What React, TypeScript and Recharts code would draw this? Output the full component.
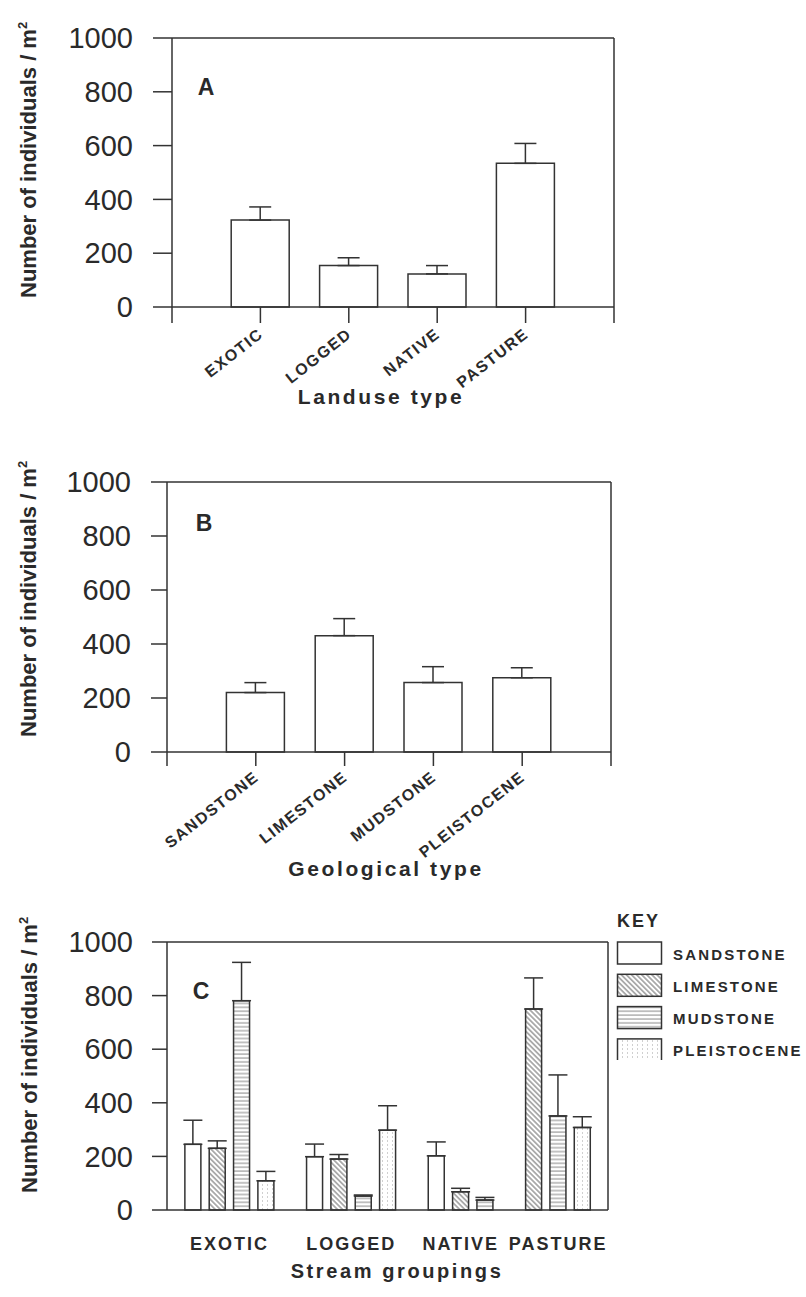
import React from "react";
import {
  BarChart,
  Bar,
  XAxis,
  YAxis,
  ErrorBar,
  ReferenceLine,
  Cell,
} from "recharts";

// ---- data ----
const landuseTypes = ["EXOTIC", "LOGGED", "NATIVE", "PASTURE"];
const landuseMeans = [323, 154, 123, 534];
const landuseErrors = [49, 29, 31, 74];

const geologyTypes = ["SANDSTONE", "LIMESTONE", "MUDSTONE", "PLEISTOCENE"];
const geologyMeans = [220, 431, 257, 275];
const geologyErrors = [37, 63, 59, 37];

// panel C: one array per geology, indexed by stream grouping (null = no bar)
const streamGroups = ["EXOTIC", "LOGGED", "NATIVE", "PASTURE"];
const sandstoneMeans = [245, 199, 202, null];
const sandstoneErrors = [90, 47, 52, null];
const limestoneMeans = [230, 190, 68, 750];
const limestoneErrors = [28, 17, 13, 116];
const mudstoneMeans = [781, 52, 37, 351];
const mudstoneErrors = [143, 4, 10, 153];
const pleistoceneMeans = [109, 298, null, 308];
const pleistoceneErrors = [35, 91, null, 40];

const yTicks = [0, 200, 400, 600, 800, 1000];

// ---- styling ----
const FONT = '"Liberation Sans", Arial, Helvetica, sans-serif';
const INK = "#2a2a2a";
const LINE = "#333";
const W = 806;
const X_AXIS_H = 60;

const PATTERN_IDS: Record<string, string> = {
  SANDSTONE: "#ffffff",
  LIMESTONE: "url(#pat-limestone)",
  MUDSTONE: "url(#pat-mudstone)",
  PLEISTOCENE: "url(#pat-pleistocene)",
};

// build panel C rows: bars laid out in slots, one empty slot between groups
const cSeries = [
  { geo: "SANDSTONE", means: sandstoneMeans, errors: sandstoneErrors },
  { geo: "LIMESTONE", means: limestoneMeans, errors: limestoneErrors },
  { geo: "MUDSTONE", means: mudstoneMeans, errors: mudstoneErrors },
  { geo: "PLEISTOCENE", means: pleistoceneMeans, errors: pleistoceneErrors },
];
const cRows: any[] = [];
const cGroupCenters: number[] = [];
{
  let slot = 0;
  streamGroups.forEach((group, gi) => {
    const members: number[] = [];
    cSeries.forEach((s) => {
      const v = s.means[gi];
      if (v == null) return;
      cRows.push({ pos: slot, group, geo: s.geo, mean: v, err: [0, s.errors[gi]] });
      members.push(slot);
      slot += 1;
    });
    cGroupCenters.push(members.reduce((a, b) => a + b, 0) / members.length);
    slot += 1;
  });
}
const cDomain: [number, number] = [-1.07, 17.05];

// ---- small svg bits ----
function YTitle({ posX, posBottom }: any) {
  return (
    <text
      x={posX}
      y={posBottom}
      transform={`rotate(-90 ${posX} ${posBottom})`}
      fontFamily={FONT}
      fontWeight="bold"
      fontSize={22}
      fill={INK}
    >
      Number of individuals / m
      <tspan fontSize={13} dy={-9}>
        2
      </tspan>
    </text>
  );
}

function PlainText({ posX, posY, text, size, spacing, anchor }: any) {
  return (
    <text
      x={posX}
      y={posY}
      textAnchor={anchor || "middle"}
      fontFamily={FONT}
      fontWeight="bold"
      fontSize={size}
      fill={INK}
      style={{ letterSpacing: spacing || 0 }}
    >
      {text}
    </text>
  );
}

function SlantTick({ x, y, payload, names }: any) {
  const name = names[payload.value - 1];
  if (!name) return null;
  const ax = x + 4;
  const ay = y + 13;
  return (
    <text
      x={ax}
      y={ay}
      textAnchor="end"
      transform={`rotate(-38 ${ax} ${ay})`}
      fontFamily={FONT}
      fontWeight="bold"
      fontSize={16}
      fill={INK}
      style={{ letterSpacing: 1.5 }}
    >
      {name}
    </text>
  );
}

function GroupTick({ x, y, payload }: any) {
  const idx = cGroupCenters.findIndex((c) => Math.abs(c - payload.value) < 1e-6);
  if (idx < 0) return null;
  return (
    <text
      x={x}
      y={y + 40}
      textAnchor="middle"
      fontFamily={FONT}
      fontWeight="bold"
      fontSize={18}
      fill={INK}
      style={{ letterSpacing: 2 }}
    >
      {streamGroups[idx]}
    </text>
  );
}

const axisLineStyle = { stroke: LINE, strokeWidth: 1.5 };
const yTickStyle = { fill: INK, fontSize: 29, fontFamily: FONT };

// ---- single-series panels (A, B) ----
function SimplePanel({ cfg, names, means, errors }: any) {
  const rows = names.map((name: string, i: number) => ({
    pos: i + 1,
    name,
    mean: means[i],
    err: [0, errors[i]],
  }));
  const xTicks = Array.from({ length: names.length + 2 }, (_, i) => i);
  const xMax = names.length + 1;
  const margin = {
    top: cfg.plotTop - cfg.top,
    right: W - cfg.plotRight,
    left: 0,
    bottom: cfg.top + cfg.height - cfg.plotBottom - X_AXIS_H,
  };
  return (
    <div style={{ position: "absolute", left: 0, top: cfg.top }}>
      <BarChart width={W} height={cfg.height} data={rows} margin={margin}>
        <XAxis
          dataKey="pos"
          type="number"
          domain={[0, xMax]}
          ticks={xTicks}
          interval={0}
          allowDataOverflow
          height={X_AXIS_H}
          tickSize={cfg.xTick}
          tickMargin={0}
          axisLine={axisLineStyle}
          tickLine={axisLineStyle}
          tick={(p: any) => <SlantTick {...p} names={names} />}
          label={
            <PlainText
              posX={cfg.titleX}
              posY={cfg.titleY - cfg.top}
              text={cfg.title}
              size={21}
              spacing={2.6}
            />
          }
        />
        <YAxis
          type="number"
          domain={[0, 1000]}
          ticks={yTicks}
          interval={0}
          width={cfg.plotLeft}
          tickSize={cfg.yTick}
          tickMargin={20}
          axisLine={axisLineStyle}
          tickLine={axisLineStyle}
          tick={yTickStyle}
          label={<YTitle posX={36} posBottom={cfg.yTitleBottom - cfg.top} />}
        />
        <Bar
          dataKey="mean"
          barSize={58}
          fill="#ffffff"
          stroke={LINE}
          strokeWidth={1.5}
          isAnimationActive={false}
        >
          <ErrorBar
            dataKey="err"
            direction="y"
            width={11}
            stroke={LINE}
            strokeWidth={1.5}
          />
        </Bar>
        <ReferenceLine
          y={1000}
          stroke={LINE}
          strokeWidth={1.5}
          label={
            <PlainText
              posX={cfg.letterX}
              posY={cfg.letterY - cfg.top}
              text={cfg.letter}
              size={23}
            />
          }
        />
        <ReferenceLine x={xMax} stroke={LINE} strokeWidth={1.5} />
      </BarChart>
    </div>
  );
}

// ---- grouped panel (C) ----
function GroupedPanel({ cfg }: any) {
  const margin = {
    top: cfg.plotTop - cfg.top,
    right: W - cfg.plotRight,
    left: 0,
    bottom: cfg.top + cfg.height - cfg.plotBottom - X_AXIS_H,
  };
  return (
    <div style={{ position: "absolute", left: 0, top: cfg.top }}>
      <BarChart width={W} height={cfg.height} data={cRows} margin={margin}>
        <XAxis
          dataKey="pos"
          type="number"
          domain={cDomain}
          ticks={cGroupCenters}
          interval={0}
          allowDataOverflow
          height={X_AXIS_H}
          tickSize={0}
          tickMargin={0}
          axisLine={axisLineStyle}
          tickLine={false}
          tick={(p: any) => <GroupTick {...p} />}
          label={
            <PlainText
              posX={cfg.titleX}
              posY={cfg.titleY - cfg.top}
              text={cfg.title}
              size={20}
              spacing={2.6}
            />
          }
        />
        <YAxis
          type="number"
          domain={[0, 1000]}
          ticks={yTicks}
          interval={0}
          width={cfg.plotLeft}
          tickSize={cfg.yTick}
          tickMargin={19}
          axisLine={axisLineStyle}
          tickLine={axisLineStyle}
          tick={yTickStyle}
          label={<YTitle posX={37} posBottom={cfg.yTitleBottom - cfg.top} />}
        />
        <Bar
          dataKey="mean"
          barSize={16}
          stroke={LINE}
          strokeWidth={1.5}
          isAnimationActive={false}
        >
          {cRows.map((r, i) => (
            <Cell key={i} fill={PATTERN_IDS[r.geo]} />
          ))}
          <ErrorBar
            dataKey="err"
            direction="y"
            width={9.5}
            stroke={LINE}
            strokeWidth={1.5}
          />
        </Bar>
        <ReferenceLine
          y={1000}
          stroke={LINE}
          strokeWidth={1.5}
          label={
            <PlainText
              posX={cfg.letterX}
              posY={cfg.letterY - cfg.top}
              text={cfg.letter}
              size={23}
            />
          }
        />
        <ReferenceLine x={cDomain[1]} stroke={LINE} strokeWidth={1.5} />
      </BarChart>
    </div>
  );
}

function Key() {
  return (
    <svg
      width={206}
      height={160}
      style={{ position: "absolute", left: 600, top: 900 }}
    >
      <defs>
        <pattern
          id="pat-limestone"
          width={3.6}
          height={3.6}
          patternUnits="userSpaceOnUse"
          patternTransform="rotate(-45)"
        >
          <rect width={3.6} height={3.6} fill="#ffffff" />
          <line x1={1.8} y1={0} x2={1.8} y2={3.6} stroke="#555" strokeWidth={0.9} />
        </pattern>
        <pattern id="pat-mudstone" width={6} height={3.9} patternUnits="userSpaceOnUse">
          <rect width={6} height={3.9} fill="#ffffff" />
          <line x1={0} y1={2} x2={6} y2={2} stroke="#666" strokeWidth={0.8} />
        </pattern>
        <pattern id="pat-pleistocene" width={5} height={4} patternUnits="userSpaceOnUse">
          <rect width={5} height={4} fill="#ffffff" />
          <line x1={2.5} y1={0} x2={2.5} y2={2} stroke="#bbb" strokeWidth={0.7} />
        </pattern>
      </defs>
      <text
        x={17}
        y={27}
        fontFamily={FONT}
        fontWeight="bold"
        fontSize={18}
        fill={INK}
        style={{ letterSpacing: 2 }}
      >
        KEY
      </text>
      {geologyTypes.map((g, i) => (
        <g key={g}>
          <rect
            x={17.5}
            y={42 + i * 32.3}
            width={44}
            height={22}
            fill={PATTERN_IDS[g]}
            stroke={LINE}
            strokeWidth={1.5}
          />
          <text
            x={73}
            y={59.5 + i * 32.3}
            fontFamily={FONT}
            fontWeight="bold"
            fontSize={15}
            fill={INK}
            style={{ letterSpacing: 2.2 }}
          >
            {g}
          </text>
        </g>
      ))}
    </svg>
  );
}

const panelA = {
  top: 0, height: 420,
  plotTop: 38, plotBottom: 307, plotLeft: 172, plotRight: 614,
  yTick: 19, xTick: 16,
  letter: "A", letterX: 206, letterY: 95,
  title: "Landuse type", titleX: 381, titleY: 404,
  yTitleBottom: 298,
};
const panelB = {
  top: 440, height: 450,
  plotTop: 482, plotBottom: 752, plotLeft: 167, plotRight: 611,
  yTick: 16, xTick: 14,
  letter: "B", letterX: 204, letterY: 531,
  title: "Geological type", titleX: 386, titleY: 876,
  yTitleBottom: 737,
};
const panelC = {
  top: 900, height: 397,
  plotTop: 942, plotBottom: 1210, plotLeft: 167, plotRight: 608,
  yTick: 15,
  letter: "C", letterX: 201, letterY: 999,
  title: "Stream groupings", titleX: 397, titleY: 1278,
  yTitleBottom: 1193,
};

export default function App() {
  return (
    <div
      style={{
        position: "absolute",
        left: 0,
        top: 0,
        width: W,
        height: 1297,
        background: "#ffffff",
        overflow: "hidden",
      }}
    >
      <Key />
      <SimplePanel cfg={panelA} names={landuseTypes} means={landuseMeans} errors={landuseErrors} />
      <SimplePanel cfg={panelB} names={geologyTypes} means={geologyMeans} errors={geologyErrors} />
      <GroupedPanel cfg={panelC} />
    </div>
  );
}
